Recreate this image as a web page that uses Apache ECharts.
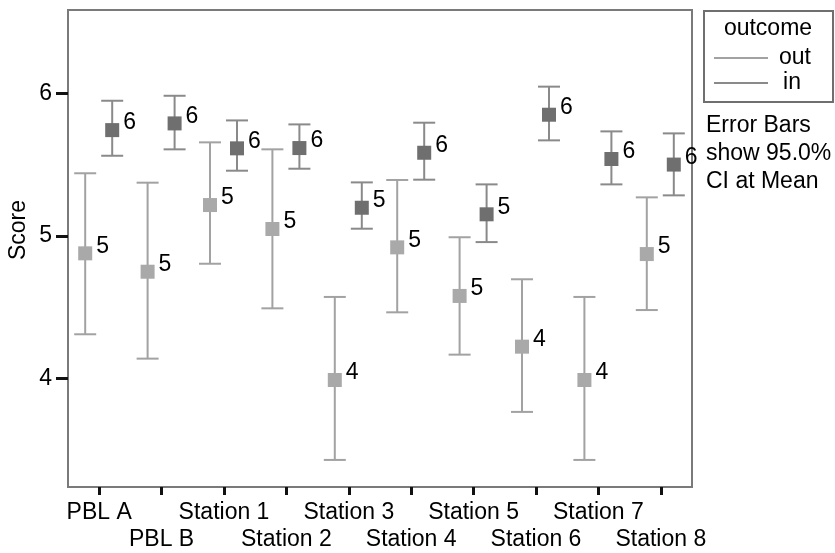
<!DOCTYPE html>
<html>
<head>
<meta charset="utf-8">
<script src="https://cdn.jsdelivr.net/npm/echarts@6/dist/echarts.min.js"></script>
<style>html,body{margin:0;padding:0;background:#fff}#c{width:835px;height:553px}</style>
</head>
<body>
<div id="c"></div>
<script>
const categories = ['PBL A','PBL B','Station 1','Station 2','Station 3','Station 4','Station 5','Station 6','Station 7','Station 8'];
const yTicks = [4, 5, 6];

const outMean = [4.877, 4.748, 5.216, 5.048, 3.988, 4.919, 4.578, 4.222, 3.988, 4.872];
const outLow  = [4.309, 4.138, 4.804, 4.491, 3.427, 4.463, 4.166, 3.764, 3.427, 4.479];
const outHigh = [5.439, 5.373, 5.656, 5.607, 4.571, 5.392, 4.990, 4.695, 4.571, 5.270];
const outLabels = ['5','5','5','5','4','5','5','4','4','5'];

const inMean = [5.742, 5.789, 5.614, 5.616, 5.197, 5.583, 5.151, 5.850, 5.539, 5.500];
const inLow  = [5.562, 5.607, 5.457, 5.471, 5.050, 5.394, 4.956, 5.670, 5.361, 5.284];
const inHigh = [5.948, 5.983, 5.810, 5.782, 5.375, 5.794, 5.361, 6.047, 5.733, 5.719];
const inLabels = ['6','6','6','6','5','6','5','6','6','6'];

const FONT = '"Liberation Sans", Arial, Helvetica, sans-serif';
const FS = 23;

function build(mean, low, high, labels) {
  return mean.map((m, i) => [i, m, low[i], high[i], labels[i]]);
}

function makeRender(offset, markerColor, lineColor, labels) {
  return function (params, api) {
    const i = api.value(0);
    const c = api.coord([i, api.value(1)]);
    const x = c[0] + offset;
    const yl = api.coord([i, api.value(2)])[1];
    const yh = api.coord([i, api.value(3)])[1];
    const cap = 11;
    const ls = { stroke: lineColor, lineWidth: 2 };
    return {
      type: 'group',
      children: [
        { type: 'line', shape: { x1: x, y1: yh, x2: x, y2: yl }, style: ls },
        { type: 'line', shape: { x1: x - cap, y1: yh, x2: x + cap, y2: yh }, style: ls },
        { type: 'line', shape: { x1: x - cap, y1: yl, x2: x + cap, y2: yl }, style: ls },
        { type: 'rect', shape: { x: x - 7, y: c[1] - 7, width: 14, height: 14 }, style: { fill: markerColor } },
        { type: 'text', style: { text: labels[i], x: x + 11, y: c[1] - 7, fill: '#000',
            fontSize: FS, fontFamily: FONT, align: 'left', verticalAlign: 'middle' } }
      ]
    };
  };
}

const chart = echarts.init(document.getElementById('c'), null, { renderer: 'canvas' });
chart.setOption({
  animation: false,
  backgroundColor: '#fff',
  grid: { left: 68, right: 143, top: 10, bottom: 66, show: true, borderColor: '#7a7a7a', borderWidth: 2 },
  xAxis: {
    type: 'category',
    data: categories,
    boundaryGap: true,
    axisLine: { show: true, lineStyle: { color: '#7a7a7a', width: 2 } },
    axisTick: { show: true, alignWithLabel: true, length: 8, lineStyle: { color: '#111', width: 3 } },
    axisLabel: {
      interval: 0, margin: 12, color: '#000', fontSize: FS, fontFamily: FONT, lineHeight: 27,
      formatter: (v, idx) => (idx % 2 === 1 ? '\n' + v : v)
    },
    splitLine: { show: false }
  },
  yAxis: {
    type: 'value',
    min: 3.237,
    max: 6.585,
    axisLine: { show: true, lineStyle: { color: '#7a7a7a', width: 2 } },
    axisTick: { show: true, length: 12, customValues: yTicks, lineStyle: { color: '#111', width: 3 } },
    axisLabel: { customValues: yTicks, margin: 16, color: '#000', fontSize: FS, fontFamily: FONT },
    splitLine: { show: false }
  },
  series: [
    { name: 'out', type: 'custom', data: build(outMean, outLow, outHigh, outLabels),
      encode: { x: 0, y: 1 }, renderItem: makeRender(-14, '#a9a9a9', '#a2a2a2', outLabels) },
    { name: 'in', type: 'custom', data: build(inMean, inLow, inHigh, inLabels),
      encode: { x: 0, y: 1 }, renderItem: makeRender(13, '#6f6f6f', '#8a8a8a', inLabels) }
  ],
  graphic: [
    { type: 'text', x: 19, y: 230, rotation: Math.PI / 2,
      style: { text: 'Score', fill: '#000', fontSize: FS, fontFamily: FONT, align: 'center', verticalAlign: 'middle' } },
    { type: 'rect', shape: { x: 704, y: 11, width: 129, height: 91 },
      style: { fill: 'none', stroke: '#6f6f6f', lineWidth: 2 } },
    { type: 'text', x: 768, y: 29,
      style: { text: 'outcome', fill: '#000', fontSize: FS, fontFamily: FONT, align: 'center', verticalAlign: 'middle' } },
    { type: 'line', shape: { x1: 714, y1: 58, x2: 768, y2: 58 }, style: { stroke: '#a2a2a2', lineWidth: 2 } },
    { type: 'text', x: 795, y: 58,
      style: { text: 'out', fill: '#000', fontSize: FS, fontFamily: FONT, align: 'center', verticalAlign: 'middle' } },
    { type: 'line', shape: { x1: 714, y1: 83, x2: 768, y2: 83 }, style: { stroke: '#8a8a8a', lineWidth: 2 } },
    { type: 'text', x: 792, y: 83,
      style: { text: 'in', fill: '#000', fontSize: FS, fontFamily: FONT, align: 'center', verticalAlign: 'middle' } },
    { type: 'text', x: 706, y: 126,
      style: { text: 'Error Bars', fill: '#000', fontSize: FS, fontFamily: FONT, align: 'left', verticalAlign: 'middle' } },
    { type: 'text', x: 706, y: 154,
      style: { text: 'show 95.0%', fill: '#000', fontSize: FS, fontFamily: FONT, align: 'left', verticalAlign: 'middle' } },
    { type: 'text', x: 706, y: 182,
      style: { text: 'CI at Mean', fill: '#000', fontSize: FS, fontFamily: FONT, align: 'left', verticalAlign: 'middle' } }
  ]
});
</script>
</body>
</html>
